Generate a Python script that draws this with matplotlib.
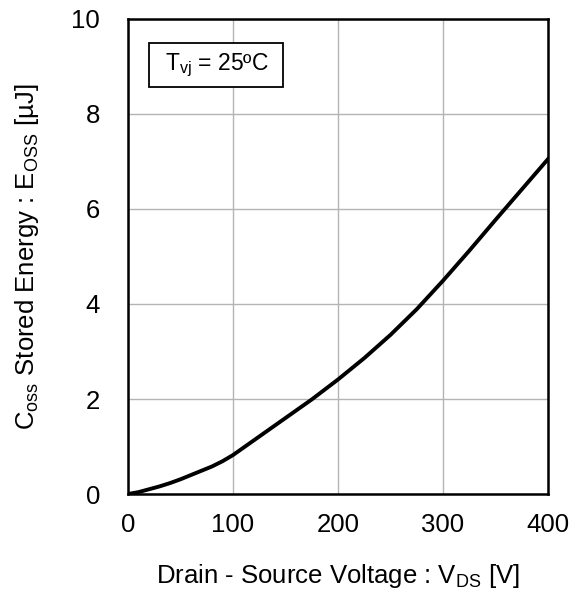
import matplotlib
matplotlib.use("Agg")
import matplotlib.pyplot as plt
from matplotlib.patches import Rectangle
import numpy as np

plt.rcParams['font.family'] = ['Liberation Sans', 'DejaVu Sans']
plt.rcParams['mathtext.fontset'] = 'custom'
plt.rcParams['mathtext.rm'] = 'Liberation Sans'
plt.rcParams['mathtext.it'] = 'Liberation Sans'

# values
vds = [0, 10, 20, 30, 40, 50, 60, 70, 80, 90, 100, 125, 150, 175, 200, 225, 250, 275, 300, 325, 350, 375, 400]
eoss = [0, 0.04, 0.1, 0.16, 0.23, 0.31, 0.4, 0.49, 0.58, 0.69, 0.82, 1.21, 1.6, 1.99, 2.41, 2.86, 3.35, 3.89, 4.49, 5.12, 5.77, 6.41, 7.05]

x_ticks = [0, 100, 200, 300, 400]
y_ticks = [0, 2, 4, 6, 8, 10]

fs = 18.5

fig = plt.figure(figsize=(5.77, 5.92), dpi=100)
ax = fig.add_axes([0.2218, 0.1655, 0.7279, 0.8025])

ax.plot(vds, eoss, color='black', lw=2.8, solid_joinstyle='round')

ax.set_xlim(0, 400)
ax.set_ylim(0, 10)
ax.set_xticks(x_ticks)
ax.set_yticks(y_ticks)
ax.grid(True, color='#b4b4b4', lw=1.0)
ax.tick_params(length=0, labelsize=fs)
ax.tick_params(axis='x', pad=14)
ax.tick_params(axis='y', pad=20)
for s in ax.spines.values():
    s.set_linewidth(1.8)
    s.set_color('black')

ax.set_xlabel(r'Drain - Source Voltage : V$\mathregular{_{DS}}$ [V]', fontsize=fs, labelpad=18)
ax.set_ylabel(r'C$\mathregular{_{oss}}$ Stored Energy : E$\mathregular{_{OSS}}$ [µJ]', fontsize=fs, labelpad=22)

# annotation box
ax.add_patch(Rectangle((0.05, 0.857), 0.319, 0.092, transform=ax.transAxes,
                       facecolor='white', edgecolor='black', lw=1.3, zorder=5))
ax.text(0.211, 0.902, r'T$\mathregular{_{vj}}$ = 25ºC', transform=ax.transAxes, fontsize=16.5,
        ha='center', va='center', zorder=6)

fig.savefig('out.png', dpi=100)
